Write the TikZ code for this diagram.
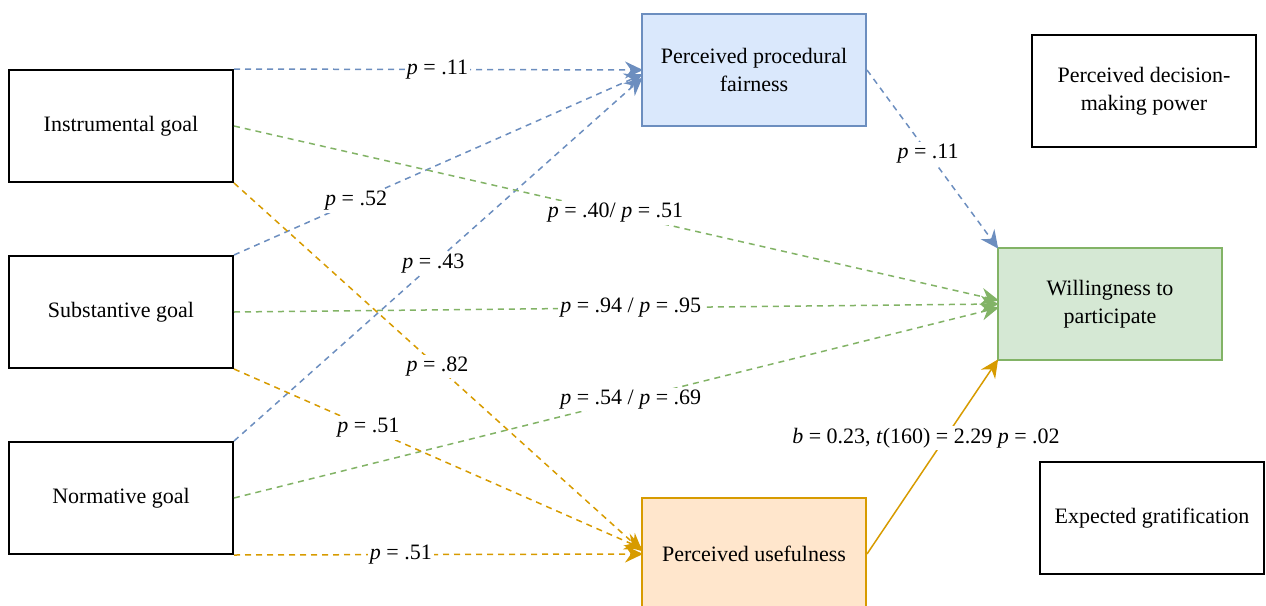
\documentclass[tikz,border=0pt]{standalone}
\usepackage{fontspec}
\setmainfont{Liberation Serif}
\usepackage{tikz}
\definecolor{fairBlue}{HTML}{6C8EBF}
\definecolor{fairFill}{HTML}{DAE8FC}
\definecolor{willGreen}{HTML}{82B366}
\definecolor{willFill}{HTML}{D5E8D4}
\definecolor{useOrange}{HTML}{D79B00}
\definecolor{useFill}{HTML}{FFE6CC}
\usetikzlibrary{arrows.meta, positioning}

\begin{document}
\begin{tikzpicture}[
    x=0.5pt, y=-0.5pt,
    font=\fontsize{11}{14}\selectfont,
    construct/.style={rectangle, draw=black, fill=white, line width=1pt, minimum width=112pt, minimum height=56pt, align=center, inner sep=2pt},
    link/.style={draw=#1, line width=0.75pt, dash pattern=on 3pt off 2.5pt, -{Stealth[length=9pt, width=8.5pt, inset=3pt, sep=-1pt]}},
    effect/.style={draw=#1, line width=0.75pt, -{Stealth[length=9pt, width=8.5pt, inset=3pt, sep=-1pt]}},
    plabel/.style={fill=white, inner sep=1pt}
]
    \useasboundingbox (0,0) rectangle (1266,606);

    % Goals
    \node[construct] (instr) at (121,126) {Instrumental goal};
    \node[construct] (subst) at (121,312) {Substantive goal};
    \node[construct] (norm) at (121,498) {Normative goal};

    % Mediators and outcome
    \node[construct, draw=fairBlue, fill=fairFill] (fair) at (754,70) {Perceived procedural\\fairness};
    \node[construct, draw=useOrange, fill=useFill] (useful) at (754,554) {Perceived usefulness};
    \node[construct, draw=willGreen, fill=willFill] (will) at (1110,304) {Willingness to\\participate};
    \node[construct] (power) at (1144,91) {Perceived decision-\\making power};
    \node[construct] (grat) at (1152,518) {Expected gratification};

    % Paths to procedural fairness
    \draw[link=fairBlue] (instr.north east) -- node[plabel] {\textit{p} = .11} (fair.west);
    \draw[link=fairBlue] (subst.north east) -- node[plabel, pos=0.3] {\textit{p} = .52} ([yshift=-2.5pt]fair.west);
    \draw[link=fairBlue] (norm.north east) -- node[plabel, pos=0.49] {\textit{p} = .43} ([yshift=-4.5pt]fair.west);
    \draw[link=fairBlue] (fair.east) -- node[plabel, pos=0.47] {\textit{p} = .11} (will.north west);

    % Paths to willingness
    \draw[link=willGreen] (instr.east) -- node[plabel] {\textit{p} = .40/ \textit{p} = .51} ([yshift=2pt]will.west);
    \draw[link=willGreen] (subst.east) -- node[plabel, pos=0.52] {\textit{p} = .94 / \textit{p} = .95} (will.west);
    \draw[link=willGreen] (norm.east) -- node[plabel, pos=0.52] {\textit{p} = .54 / \textit{p} = .69} ([yshift=-2pt]will.west);

    % Paths to usefulness
    \draw[link=useOrange] (instr.south east) -- node[plabel] {\textit{p} = .82} ([yshift=2pt]useful.west);
    \draw[link=useOrange] (subst.south east) -- node[plabel, pos=0.33] {\textit{p} = .51} ([yshift=3pt]useful.west);
    \draw[link=useOrange] (norm.south east) -- node[plabel, pos=0.41] {\textit{p} = .51} (useful.west);
    \draw[effect=useOrange] (useful.east) -- node[plabel, pos=0.6, xshift=-9.5pt] {\textit{b} = 0.23, \textit{t}(160) = 2.29 \textit{p} = .02} (will.south west);
\end{tikzpicture}
\end{document}
